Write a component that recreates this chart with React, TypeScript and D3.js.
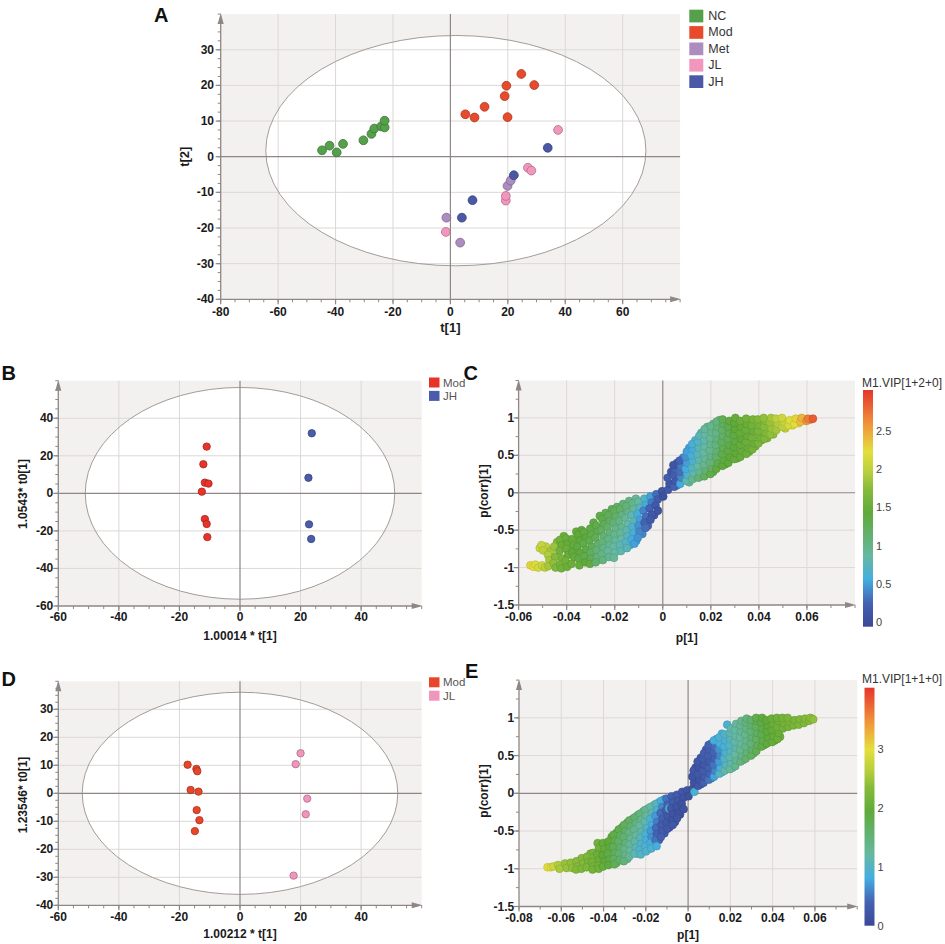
import React from 'react';
import * as d3 from 'd3';

const FONT = '"Liberation Sans", Arial, Helvetica, sans-serif';
const BG = '#f3f1f0';
const GRID = '#dcd8d6';
const AXIS = '#8e8785';
const ELLIPSE = '#a39b98';
const TXT = '#1a1a1a';

// ---------------- Panel A (PCA scores) ----------------
const aGroups = ['NC', 'Mod', 'Met', 'JL', 'JH'];
const aFills = ['#55a04a', '#e84a2c', '#ad8cc0', '#f296bd', '#4a58a5'];
const aNC = [[-44.7, 1.8], [-42.1, 3.1], [-39.6, 1.2], [-37.4, 3.6], [-30.3, 4.6], [-27.5, 6.4], [-26.5, 7.9], [-24.1, 8.5], [-22.9, 8.2], [-22.9, 10.1]];
const aMod = [[5.2, 11.9], [8.4, 11.0], [11.9, 14.0], [18.9, 17.0], [19.5, 19.9], [24.7, 23.2], [29.2, 20.1], [19.9, 11.1]];
const aMet = [[-1.4, -17.1], [3.4, -24.1], [19.9, -8.2], [21.0, -6.7]];
const aJL = [[-1.6, -21.1], [19.3, -12.3], [19.3, -11.0], [27.0, -3.1], [28.2, -3.9], [37.5, 7.5]];
const aJH = [[4.0, -17.1], [7.7, -12.2], [22.1, -5.2], [33.9, 2.5]];
const aXTicks = [-80, -60, -40, -20, 0, 20, 40, 60];
const aYTicks = [-40, -30, -20, -10, 0, 10, 20, 30];
const aEllipse = { cx: 1.9, cy: 1.7, rx: 66.2, ry: 32.3 };

// ---------------- Panel B (OPLS-DA Mod vs JH) ----------------
const bMod = [[-11.0, 24.9], [-12.1, 15.5], [-11.6, 5.7], [-10.4, 5.2], [-12.6, 0.9], [-11.6, -13.7], [-11.0, -16.3], [-10.8, -23.3]];
const bJH = [[23.7, 32.0], [22.6, 8.3], [22.8, -16.5], [23.5, -24.3]];
const bXTicks = [-60, -40, -20, 0, 20, 40];
const bYTicks = [-60, -40, -20, 0, 20, 40];
const bEllipse = { cx: 0, cy: 0, rx: 51.1, ry: 56.4 };

// ---------------- Panel D (OPLS-DA Mod vs JL) ----------------
const dMod = [[-17.3, 10.2], [-14.4, 8.7], [-14.1, 7.9], [-16.3, 1.2], [-13.7, 0.6], [-14.3, -6.0], [-13.4, -9.6], [-14.9, -13.5]];
const dJL = [[20.0, 14.3], [18.4, 10.4], [22.2, -1.9], [21.7, -7.5], [17.7, -29.4]];
const dXTicks = [-60, -40, -20, 0, 20, 40];
const dYTicks = [-40, -30, -20, -10, 0, 10, 20, 30];
const dEllipse = { cx: 0, cy: 0, rx: 52.1, ry: 36.1 };

// ---------------- Panel C (S-plot, [p, pcorr, VIP]) ----------------
const cNeg = [
  [-0.0551, -0.97, 2.3], [-0.0538, -0.99, 2.25], [-0.0530, -0.96, 2.2], [-0.0518, -1.0, 2.15],
  [-0.0505, -0.70, 2.05], [-0.0498, -0.77, 2.0], [-0.0502, -0.97, 2.1], [-0.0490, -1.0, 2.0],
  [-0.0478, -0.83, 1.95], [-0.0472, -0.90, 1.9], [-0.0476, -0.98, 1.9],
  [-0.0452, -0.72, 1.85], [-0.0448, -0.86, 1.75], [-0.0455, -0.94, 1.8], [-0.0446, -1.0, 1.7],
  [-0.0428, -0.63, 1.6], [-0.0421, -0.70, 1.55], [-0.0430, -0.78, 1.6], [-0.0419, -0.88, 1.65], [-0.0427, -0.96, 1.65], [-0.0422, -1.01, 1.6],
  [-0.0403, -0.61, 1.55], [-0.0396, -0.68, 1.5], [-0.0401, -0.75, 1.55], [-0.0394, -0.83, 1.5], [-0.0405, -0.91, 1.6], [-0.0398, -0.99, 1.55],
  [-0.0378, -0.62, 1.5], [-0.0371, -0.70, 1.5], [-0.0376, -0.79, 1.45], [-0.0369, -0.86, 1.5], [-0.0380, -0.95, 1.55],
  [-0.0352, -0.56, 1.45], [-0.0346, -0.64, 1.45], [-0.0355, -0.72, 1.4], [-0.0344, -0.80, 1.45], [-0.0350, -0.88, 1.4], [-0.0347, -0.97, 1.5],
  [-0.0327, -0.53, 1.4], [-0.0321, -0.60, 1.45], [-0.0330, -0.68, 1.35], [-0.0319, -0.76, 1.4], [-0.0326, -0.85, 1.35], [-0.0322, -0.93, 1.45],
  [-0.0302, -0.48, 1.4], [-0.0297, -0.56, 1.35], [-0.0305, -0.64, 1.35], [-0.0295, -0.72, 1.3], [-0.0300, -0.80, 1.25], [-0.0298, -0.88, 1.3], [-0.0303, -0.95, 1.4],
  [-0.0277, -0.44, 1.35], [-0.0271, -0.52, 1.35], [-0.0280, -0.60, 1.3], [-0.0270, -0.69, 1.2], [-0.0276, -0.77, 1.15], [-0.0272, -0.86, 1.1], [-0.0279, -0.93, 1.2],
  [-0.0252, -0.35, 1.35], [-0.0246, -0.42, 1.3], [-0.0255, -0.50, 1.25], [-0.0245, -0.58, 1.15], [-0.0251, -0.66, 1.1], [-0.0247, -0.74, 1.05], [-0.0254, -0.82, 1.05], [-0.0249, -0.90, 1.1],
  [-0.0227, -0.30, 1.3], [-0.0221, -0.38, 1.25], [-0.0230, -0.46, 1.2], [-0.0220, -0.54, 1.1], [-0.0226, -0.62, 1.05], [-0.0222, -0.70, 1.0], [-0.0229, -0.78, 0.95], [-0.0224, -0.86, 1.0],
  [-0.0202, -0.24, 1.25], [-0.0196, -0.32, 1.2], [-0.0205, -0.40, 1.15], [-0.0195, -0.48, 1.05], [-0.0201, -0.56, 1.0], [-0.0197, -0.64, 0.95], [-0.0204, -0.72, 0.9], [-0.0199, -0.80, 0.9], [-0.0203, -0.87, 0.95],
  [-0.0177, -0.22, 1.2], [-0.0171, -0.30, 1.1], [-0.0180, -0.38, 1.05], [-0.0170, -0.46, 1.0], [-0.0176, -0.54, 0.95], [-0.0172, -0.62, 0.9], [-0.0179, -0.70, 0.85], [-0.0174, -0.78, 0.85],
  [-0.0152, -0.18, 1.1], [-0.0146, -0.26, 1.05], [-0.0155, -0.34, 0.95], [-0.0145, -0.42, 0.9], [-0.0151, -0.50, 0.85], [-0.0147, -0.58, 0.8], [-0.0154, -0.66, 0.75], [-0.0149, -0.74, 0.8],
  [-0.0127, -0.14, 1.05], [-0.0121, -0.22, 0.95], [-0.0130, -0.30, 0.85], [-0.0120, -0.38, 0.8], [-0.0126, -0.46, 0.7], [-0.0122, -0.54, 0.65], [-0.0129, -0.62, 0.6], [-0.0118, -0.68, 0.55],
  [-0.0102, -0.12, 0.9], [-0.0096, -0.20, 0.8], [-0.0105, -0.28, 0.65], [-0.0095, -0.36, 0.55], [-0.0101, -0.44, 0.5], [-0.0097, -0.52, 0.45], [-0.0104, -0.60, 0.5],
  [-0.0077, -0.08, 0.75], [-0.0071, -0.16, 0.6], [-0.0080, -0.24, 0.45], [-0.0070, -0.32, 0.35], [-0.0076, -0.40, 0.3], [-0.0072, -0.47, 0.35],
  [-0.0052, -0.05, 0.55], [-0.0046, -0.13, 0.4], [-0.0055, -0.21, 0.3], [-0.0045, -0.29, 0.2], [-0.0051, -0.36, 0.2],
  [-0.0027, -0.02, 0.35], [-0.0021, -0.09, 0.25], [-0.0030, -0.17, 0.2], [-0.0020, -0.24, 0.15],
  [-0.0003, 0.02, 0.15], [0.0002, -0.05, 0.1],
];
const cPos = [
  [0.0022, 0.04, 0.2], [0.0028, 0.12, 0.15], [0.0020, 0.20, 0.25],
  [0.0048, 0.08, 0.3], [0.0053, 0.16, 0.2], [0.0046, 0.24, 0.25], [0.0051, 0.32, 0.3], [0.0044, 0.37, 0.15],
  [0.0073, 0.12, 0.6], [0.0078, 0.20, 0.45], [0.0071, 0.28, 0.35], [0.0076, 0.36, 0.4], [0.0070, 0.43, 0.3],
  [0.0098, 0.16, 0.85], [0.0103, 0.24, 0.7], [0.0096, 0.32, 0.6], [0.0101, 0.40, 0.55], [0.0095, 0.48, 0.5], [0.0100, 0.55, 0.55],
  [0.0123, 0.18, 1.0], [0.0128, 0.26, 0.85], [0.0121, 0.34, 0.75], [0.0126, 0.42, 0.7], [0.0120, 0.50, 0.65], [0.0125, 0.58, 0.6], [0.0122, 0.65, 0.65],
  [0.0148, 0.20, 1.15], [0.0153, 0.28, 1.0], [0.0146, 0.36, 0.9], [0.0151, 0.44, 0.85], [0.0145, 0.52, 0.8], [0.0150, 0.60, 0.8], [0.0147, 0.68, 0.75], [0.0152, 0.76, 0.8],
  [0.0173, 0.22, 1.25], [0.0178, 0.30, 1.15], [0.0171, 0.38, 1.0], [0.0176, 0.46, 0.95], [0.0170, 0.54, 0.9], [0.0175, 0.62, 0.9], [0.0172, 0.70, 0.85], [0.0177, 0.78, 0.9], [0.0174, 0.85, 0.95],
  [0.0198, 0.25, 1.35], [0.0203, 0.33, 1.25], [0.0196, 0.41, 1.1], [0.0201, 0.49, 1.05], [0.0195, 0.57, 1.0], [0.0200, 0.65, 1.0], [0.0197, 0.73, 0.95], [0.0202, 0.81, 1.0], [0.0199, 0.89, 1.0],
  [0.0223, 0.32, 1.4], [0.0228, 0.40, 1.35], [0.0221, 0.48, 1.2], [0.0226, 0.56, 1.15], [0.0220, 0.64, 1.1], [0.0225, 0.72, 1.1], [0.0222, 0.80, 1.05], [0.0227, 0.88, 1.1], [0.0224, 0.95, 1.1],
  [0.0248, 0.36, 1.45], [0.0253, 0.44, 1.4], [0.0246, 0.52, 1.35], [0.0251, 0.60, 1.3], [0.0245, 0.68, 1.25], [0.0250, 0.76, 1.2], [0.0247, 0.84, 1.2], [0.0252, 0.92, 1.25], [0.0249, 0.98, 1.3],
  [0.0273, 0.40, 1.45], [0.0278, 0.48, 1.45], [0.0271, 0.56, 1.4], [0.0276, 0.64, 1.35], [0.0270, 0.72, 1.3], [0.0275, 0.80, 1.3], [0.0272, 0.88, 1.35], [0.0277, 0.96, 1.4],
  [0.0298, 0.45, 1.5], [0.0303, 0.53, 1.45], [0.0296, 0.61, 1.45], [0.0301, 0.69, 1.4], [0.0295, 0.77, 1.4], [0.0300, 0.85, 1.45], [0.0297, 0.93, 1.45], [0.0302, 1.0, 1.5],
  [0.0323, 0.48, 1.5], [0.0328, 0.56, 1.5], [0.0321, 0.64, 1.5], [0.0326, 0.72, 1.45], [0.0320, 0.80, 1.5], [0.0325, 0.88, 1.5], [0.0322, 0.96, 1.55],
  [0.0348, 0.52, 1.55], [0.0353, 0.60, 1.5], [0.0346, 0.68, 1.55], [0.0351, 0.76, 1.5], [0.0345, 0.84, 1.55], [0.0350, 0.92, 1.55], [0.0347, 0.99, 1.6],
  [0.0373, 0.58, 1.6], [0.0378, 0.66, 1.55], [0.0371, 0.74, 1.6], [0.0376, 0.82, 1.55], [0.0370, 0.90, 1.6], [0.0375, 0.98, 1.65],
  [0.0398, 0.66, 1.65], [0.0403, 0.74, 1.6], [0.0396, 0.82, 1.65], [0.0401, 0.90, 1.65], [0.0395, 0.98, 1.7],
  [0.0423, 0.72, 1.7], [0.0428, 0.80, 1.7], [0.0421, 0.88, 1.75], [0.0426, 0.96, 1.75], [0.0420, 1.0, 1.8],
  [0.0448, 0.78, 1.8], [0.0453, 0.86, 1.85], [0.0446, 0.94, 1.85], [0.0451, 1.0, 1.9],
  [0.0473, 0.84, 1.9], [0.0478, 0.92, 1.95], [0.0471, 0.99, 2.0],
  [0.0498, 0.88, 2.0], [0.0503, 0.95, 2.05], [0.0496, 1.0, 2.1],
  [0.0523, 0.90, 2.15], [0.0528, 0.97, 2.2],
  [0.0548, 0.92, 2.25], [0.0553, 0.99, 2.3],
  [0.0573, 0.95, 2.4], [0.0578, 1.0, 2.45],
  [0.0598, 0.96, 2.6], [0.0605, 0.99, 2.7],
  [0.0625, 0.99, 2.85],
];
const cExtra = [
  [-0.0512, -0.74, 2.1], [-0.0486, -0.72, 2.0], [-0.0466, -0.78, 1.9], [-0.0440, -0.66, 1.7], [-0.0412, -0.58, 1.55],
  [-0.0360, -0.52, 1.5], [-0.0338, -0.50, 1.45], [-0.0288, -0.40, 1.4], [-0.0262, -0.31, 1.35], [-0.0238, -0.27, 1.3],
  [-0.0212, -0.22, 1.3], [-0.0190, -0.19, 1.25], [-0.0165, -0.15, 1.15], [-0.0140, -0.11, 1.05], [-0.0112, -0.08, 0.95],
  [-0.0262, -0.89, 1.15], [-0.0236, -0.84, 1.0], [-0.0212, -0.83, 0.9], [-0.0162, -0.72, 0.8], [-0.0137, -0.70, 0.65],
  [-0.0110, -0.64, 0.55], [-0.0085, -0.55, 0.45], [-0.0062, -0.44, 0.3], [-0.0036, -0.30, 0.2],
  [0.0035, 0.28, 0.15], [0.0060, 0.40, 0.25], [0.0085, 0.47, 0.45], [0.0110, 0.60, 0.55], [0.0135, 0.70, 0.7],
  [0.0160, 0.80, 0.8], [0.0185, 0.88, 0.95], [0.0210, 0.92, 1.0], [0.0235, 0.97, 1.1], [0.0060, 0.10, 0.5],
  [0.0110, 0.14, 0.95], [0.0160, 0.22, 1.2], [0.0210, 0.28, 1.35], [0.0260, 0.38, 1.45], [0.0310, 0.46, 1.5],
  [0.0360, 0.55, 1.55], [0.0410, 0.70, 1.65], [0.0435, 0.73, 1.7], [0.0460, 0.78, 1.8], [0.0510, 0.86, 2.0],
  [0.0540, 0.90, 2.2], [0.0565, 0.93, 2.35], [0.0590, 0.98, 2.55], [0.0615, 0.98, 2.8], [0.0385, 0.62, 1.6],
];
const cXTicks = [-0.06, -0.04, -0.02, 0, 0.02, 0.04, 0.06];
const cYTicks = [-1.5, -1, -0.5, 0, 0.5, 1];
const cBarTicks = [0, 0.5, 1, 1.5, 2, 2.5];
const cVipMax = 3.03;

// ---------------- Panel E (S-plot, [p, pcorr, VIP]) ----------------
const eNeg = [
  [-0.0665, -0.98, 3.0], [-0.0650, -0.98, 2.95], [-0.0638, -0.97, 2.8],
  [-0.0615, -0.95, 2.6], [-0.0608, -1.0, 2.55],
  [-0.0582, -0.93, 2.45], [-0.0575, -0.99, 2.45],
  [-0.0555, -0.92, 2.4], [-0.0548, -0.99, 2.4],
  [-0.0528, -0.90, 2.35], [-0.0522, -0.97, 2.35], [-0.0530, -1.01, 2.3],
  [-0.0503, -0.86, 2.3], [-0.0497, -0.93, 2.3], [-0.0505, -1.0, 2.25],
  [-0.0478, -0.84, 2.25], [-0.0472, -0.91, 2.2], [-0.0480, -0.98, 2.25],
  [-0.0450, -0.79, 2.2], [-0.0447, -0.85, 2.2], [-0.0455, -0.91, 2.15], [-0.0448, -0.97, 2.2], [-0.0452, -1.01, 2.15],
  [-0.0428, -0.66, 2.1], [-0.0422, -0.73, 2.1], [-0.0430, -0.81, 2.05], [-0.0421, -0.89, 2.05], [-0.0427, -0.96, 2.1], [-0.0423, -1.0, 2.1],
  [-0.0403, -0.66, 2.0], [-0.0397, -0.74, 2.0], [-0.0405, -0.82, 1.95], [-0.0396, -0.90, 1.95], [-0.0402, -0.97, 2.0],
  [-0.0378, -0.64, 1.95], [-0.0372, -0.72, 1.9], [-0.0380, -0.80, 1.85], [-0.0371, -0.88, 1.85], [-0.0377, -0.95, 1.9],
  [-0.0353, -0.55, 1.85], [-0.0347, -0.63, 1.8], [-0.0355, -0.71, 1.75], [-0.0346, -0.79, 1.7], [-0.0352, -0.87, 1.7], [-0.0348, -0.94, 1.75],
  [-0.0328, -0.48, 1.8], [-0.0322, -0.56, 1.7], [-0.0330, -0.64, 1.65], [-0.0321, -0.72, 1.6], [-0.0327, -0.80, 1.55], [-0.0323, -0.88, 1.6],
  [-0.0303, -0.42, 1.7], [-0.0297, -0.50, 1.65], [-0.0305, -0.58, 1.55], [-0.0296, -0.66, 1.5], [-0.0302, -0.74, 1.4], [-0.0298, -0.82, 1.4], [-0.0304, -0.90, 1.5],
  [-0.0278, -0.36, 1.65], [-0.0272, -0.44, 1.55], [-0.0280, -0.52, 1.45], [-0.0271, -0.60, 1.35], [-0.0277, -0.68, 1.3], [-0.0273, -0.76, 1.25], [-0.0279, -0.84, 1.3],
  [-0.0253, -0.32, 1.55], [-0.0247, -0.40, 1.45], [-0.0255, -0.48, 1.35], [-0.0246, -0.56, 1.25], [-0.0252, -0.64, 1.15], [-0.0248, -0.72, 1.1], [-0.0254, -0.80, 1.1],
  [-0.0228, -0.27, 1.45], [-0.0222, -0.35, 1.35], [-0.0230, -0.43, 1.25], [-0.0221, -0.51, 1.15], [-0.0227, -0.59, 1.05], [-0.0223, -0.67, 1.0], [-0.0229, -0.75, 0.95], [-0.0224, -0.81, 1.0],
  [-0.0203, -0.22, 1.35], [-0.0197, -0.30, 1.25], [-0.0205, -0.38, 1.15], [-0.0196, -0.46, 1.0], [-0.0202, -0.54, 0.9], [-0.0198, -0.62, 0.85], [-0.0204, -0.70, 0.9], [-0.0199, -0.77, 0.95],
  [-0.0178, -0.18, 1.2], [-0.0172, -0.26, 1.1], [-0.0180, -0.34, 0.95], [-0.0171, -0.42, 0.8], [-0.0177, -0.50, 0.7], [-0.0173, -0.58, 0.65], [-0.0179, -0.66, 0.8], [-0.0174, -0.73, 0.9],
  [-0.0153, -0.14, 1.05], [-0.0147, -0.22, 0.9], [-0.0155, -0.30, 0.7], [-0.0146, -0.38, 0.55], [-0.0152, -0.46, 0.45], [-0.0148, -0.54, 0.4], [-0.0154, -0.62, 0.5], [-0.0149, -0.70, 0.85],
  [-0.0128, -0.10, 0.8], [-0.0122, -0.18, 0.6], [-0.0130, -0.26, 0.45], [-0.0121, -0.34, 0.35], [-0.0127, -0.42, 0.3], [-0.0123, -0.50, 0.3], [-0.0129, -0.58, 0.35],
  [-0.0103, -0.07, 0.5], [-0.0097, -0.15, 0.4], [-0.0105, -0.23, 0.3], [-0.0096, -0.31, 0.25], [-0.0102, -0.39, 0.25], [-0.0098, -0.47, 0.25], [-0.0090, -0.20, 0.9],
  [-0.0078, -0.04, 0.35], [-0.0072, -0.12, 0.3], [-0.0080, -0.20, 0.25], [-0.0071, -0.28, 0.2], [-0.0077, -0.36, 0.2], [-0.0073, -0.42, 0.25],
  [-0.0053, -0.02, 0.3], [-0.0047, -0.10, 0.25], [-0.0055, -0.18, 0.2], [-0.0046, -0.26, 0.15], [-0.0052, -0.33, 0.2],
  [-0.0028, 0.02, 0.25], [-0.0022, -0.06, 0.2], [-0.0030, -0.14, 0.15], [-0.0021, -0.21, 0.15],
  [-0.0004, 0.04, 0.2], [0.0002, -0.04, 0.15],
];
const ePos = [
  [0.0022, 0.06, 0.2], [0.0028, 0.14, 0.15], [0.0020, 0.22, 0.2], [0.0026, 0.30, 0.25], [0.0030, 0.02, 0.9],
  [0.0048, 0.10, 0.25], [0.0053, 0.18, 0.2], [0.0046, 0.26, 0.25], [0.0051, 0.34, 0.2], [0.0045, 0.42, 0.25],
  [0.0073, 0.14, 0.35], [0.0078, 0.22, 0.3], [0.0071, 0.30, 0.3], [0.0076, 0.38, 0.25], [0.0070, 0.46, 0.3], [0.0075, 0.53, 0.35],
  [0.0098, 0.18, 0.5], [0.0103, 0.26, 0.4], [0.0096, 0.34, 0.35], [0.0101, 0.42, 0.3], [0.0095, 0.50, 0.35], [0.0100, 0.58, 0.35], [0.0097, 0.64, 0.4],
  [0.0123, 0.22, 0.75], [0.0128, 0.30, 0.6], [0.0121, 0.38, 0.5], [0.0126, 0.46, 0.4], [0.0120, 0.54, 0.4], [0.0125, 0.62, 0.45], [0.0122, 0.70, 0.8],
  [0.0148, 0.26, 1.0], [0.0153, 0.34, 0.85], [0.0146, 0.42, 0.7], [0.0151, 0.50, 0.6], [0.0145, 0.58, 0.65], [0.0150, 0.66, 0.85], [0.0147, 0.74, 0.9],
  [0.0173, 0.30, 1.15], [0.0178, 0.38, 1.05], [0.0171, 0.46, 0.95], [0.0176, 0.54, 0.9], [0.0170, 0.62, 0.85], [0.0175, 0.70, 0.9], [0.0172, 0.78, 0.95], [0.0185, 0.91, 0.9],
  [0.0198, 0.32, 1.25], [0.0203, 0.40, 1.15], [0.0196, 0.48, 1.1], [0.0201, 0.56, 1.05], [0.0195, 0.64, 1.0], [0.0200, 0.72, 1.05], [0.0197, 0.80, 1.1], [0.0202, 0.86, 1.15],
  [0.0223, 0.36, 1.35], [0.0228, 0.44, 1.3], [0.0221, 0.52, 1.2], [0.0226, 0.60, 1.15], [0.0220, 0.68, 1.15], [0.0225, 0.76, 1.2], [0.0222, 0.84, 1.2], [0.0227, 0.92, 1.25],
  [0.0248, 0.42, 1.45], [0.0253, 0.50, 1.4], [0.0246, 0.58, 1.3], [0.0251, 0.66, 1.25], [0.0245, 0.74, 1.25], [0.0250, 0.82, 1.3], [0.0247, 0.90, 1.3], [0.0252, 0.96, 1.35],
  [0.0273, 0.46, 1.55], [0.0278, 0.54, 1.5], [0.0271, 0.62, 1.4], [0.0276, 0.70, 1.35], [0.0270, 0.78, 1.35], [0.0275, 0.86, 1.4], [0.0272, 0.94, 1.45], [0.0277, 0.99, 1.5],
  [0.0298, 0.50, 1.65], [0.0303, 0.58, 1.6], [0.0296, 0.66, 1.5], [0.0301, 0.74, 1.5], [0.0295, 0.82, 1.5], [0.0300, 0.90, 1.55], [0.0297, 0.97, 1.6],
  [0.0323, 0.56, 1.75], [0.0328, 0.64, 1.7], [0.0321, 0.72, 1.65], [0.0326, 0.80, 1.65], [0.0320, 0.88, 1.7], [0.0325, 0.96, 1.75], [0.0322, 1.0, 1.8],
  [0.0348, 0.62, 1.85], [0.0353, 0.70, 1.8], [0.0346, 0.78, 1.8], [0.0351, 0.86, 1.8], [0.0345, 0.94, 1.85], [0.0350, 1.0, 1.9],
  [0.0373, 0.66, 1.9], [0.0378, 0.74, 1.9], [0.0371, 0.82, 1.9], [0.0376, 0.90, 1.95], [0.0370, 0.97, 1.95],
  [0.0398, 0.68, 2.0], [0.0403, 0.76, 2.0], [0.0396, 0.84, 2.0], [0.0401, 0.92, 2.05], [0.0395, 0.99, 2.05],
  [0.0423, 0.72, 2.05], [0.0428, 0.80, 2.05], [0.0421, 0.88, 2.1], [0.0426, 0.96, 2.1], [0.0420, 1.0, 2.1],
  [0.0448, 0.86, 2.1], [0.0453, 0.93, 2.15], [0.0446, 1.0, 2.15],
  [0.0473, 0.88, 2.15], [0.0478, 0.95, 2.2], [0.0471, 1.0, 2.2],
  [0.0498, 0.90, 2.2], [0.0503, 0.97, 2.2],
  [0.0523, 0.91, 2.25], [0.0528, 0.98, 2.25],
  [0.0548, 0.93, 2.25], [0.0553, 0.99, 2.3],
  [0.0573, 0.96, 2.3], [0.0578, 1.0, 2.35],
  [0.0592, 0.98, 2.4],
];
const eExtra = [
  [-0.0560, -0.96, 2.4], [-0.0512, -0.89, 2.3], [-0.0462, -0.80, 2.2], [-0.0412, -0.70, 2.05], [-0.0388, -0.68, 1.95],
  [-0.0362, -0.58, 1.9], [-0.0338, -0.52, 1.8], [-0.0312, -0.45, 1.75], [-0.0288, -0.39, 1.7], [-0.0262, -0.34, 1.6],
  [-0.0238, -0.29, 1.5], [-0.0212, -0.24, 1.4], [-0.0188, -0.20, 1.3], [-0.0162, -0.16, 1.15], [-0.0138, -0.12, 0.95],
  [-0.0112, -0.08, 0.7], [-0.0338, -0.92, 1.6], [-0.0288, -0.87, 1.35], [-0.0238, -0.80, 1.1], [-0.0188, -0.74, 0.85],
  [-0.0162, -0.70, 0.6], [-0.0138, -0.62, 0.4], [-0.0112, -0.53, 0.3], [-0.0088, -0.45, 0.25], [-0.0062, -0.38, 0.2],
  [-0.0038, -0.28, 0.15],
  [0.0035, 0.34, 0.2], [0.0060, 0.47, 0.25], [0.0085, 0.58, 0.3], [0.0110, 0.66, 0.6], [0.0135, 0.72, 0.85],
  [0.0160, 0.79, 0.9], [0.0060, 0.12, 0.3], [0.0110, 0.20, 0.55], [0.0160, 0.28, 1.05], [0.0210, 0.34, 1.25],
  [0.0260, 0.44, 1.45], [0.0310, 0.53, 1.65], [0.0360, 0.64, 1.85], [0.0410, 0.70, 2.0], [0.0435, 0.75, 2.05],
  [0.0460, 0.89, 2.1], [0.0510, 0.94, 2.2], [0.0560, 0.96, 2.25], [0.0585, 0.99, 2.35], [0.0236, 0.88, 1.2], [0.0286, 0.92, 1.45],
];
const eXTicks = [-0.08, -0.06, -0.04, -0.02, 0, 0.02, 0.04, 0.06];
const eYTicks = [-1.5, -1, -0.5, 0, 0.5, 1];
const eBarTicks = [0, 1, 2, 3];
const eVipMax = 4.04;

// colour map (fraction of max VIP -> colour)
const cmapStops = [0, 0.1, 0.2, 0.3, 0.48, 0.58, 0.66, 0.74, 0.85, 1];
const cmapColors = ['#3b4895', '#4462b3', '#44aee0', '#66b8a0', '#5faa3a', '#86bb3a', '#bcd03e', '#e3df3c', '#f0983a', '#e5352b'];
const cmap = d3.scaleLinear<string>().domain(cmapStops).range(cmapColors).interpolate(d3.interpolateRgb).clamp(true);

const fmtNum = (v: number) => (v === 0 ? '0' : String(+v.toFixed(2)));

function Frame(props: any) {
  const { sx, sy, xTicks, yTicks, xMinorStep, yMinorStep, xLabelY, yLabelX, ellipse, children } = props;
  const [xL, xR] = sx.range();
  const [yB, yT] = sy.range();
  const [dx0, dx1] = sx.domain();
  const [dy0, dy1] = sy.domain();
  const x0 = sx(0);
  const y0 = sy(0);
  const xMinor = d3.range(dx0, dx1 + xMinorStep * 0.01, xMinorStep);
  const yMinor = d3.range(dy0, dy1 + yMinorStep * 0.01, yMinorStep);
  const el = ellipse
    ? { cx: sx(ellipse.cx), cy: sy(ellipse.cy), rx: sx(ellipse.rx) - sx(0), ry: sy(0) - sy(ellipse.ry) }
    : null;
  return (
    <g>
      <rect x={xL} y={yT} width={xR - xL} height={yB - yT} fill={BG} />
      {el && <ellipse {...el} fill="#ffffff" />}
      {xTicks.filter((v: number) => Math.abs(v) > 1e-9 && sx(v) > xL + 1).map((v: number) => (
        <line key={'gx' + v} x1={sx(v)} x2={sx(v)} y1={yT} y2={yB} stroke={GRID} strokeWidth={1} />
      ))}
      {yTicks.filter((v: number) => Math.abs(v) > 1e-9 && sy(v) < yB - 1).map((v: number) => (
        <line key={'gy' + v} x1={xL} x2={xR} y1={sy(v)} y2={sy(v)} stroke={GRID} strokeWidth={1} />
      ))}
      {el && <ellipse {...el} fill="none" stroke={ELLIPSE} strokeWidth={1} />}
      <line x1={xL} x2={xR} y1={y0} y2={y0} stroke={AXIS} strokeWidth={1.2} />
      <line x1={x0} x2={x0} y1={yT} y2={yB} stroke={AXIS} strokeWidth={1.2} />
      {children}
      <line x1={xL} x2={xL} y1={yB} y2={yT + 4} stroke={AXIS} strokeWidth={1.3} />
      <path d={`M${xL},${yT - 1} L${xL - 3},${yT + 10} L${xL + 3},${yT + 10} Z`} fill={AXIS} />
      <line x1={xL} x2={xR - 4} y1={yB} y2={yB} stroke={AXIS} strokeWidth={1.3} />
      <path d={`M${xR + 1},${yB} L${xR - 10},${yB - 3} L${xR - 10},${yB + 3} Z`} fill={AXIS} />
      {xMinor.map((v: number) => (
        <line key={'mx' + v} x1={sx(v)} x2={sx(v)} y1={yB} y2={yB + 3} stroke={AXIS} strokeWidth={1} />
      ))}
      {yMinor.map((v: number) => (
        <line key={'my' + v} x1={xL - 3} x2={xL} y1={sy(v)} y2={sy(v)} stroke={AXIS} strokeWidth={1} />
      ))}
      {xTicks.map((v: number) => (
        <line key={'tx' + v} x1={sx(v)} x2={sx(v)} y1={yB} y2={yB + 5} stroke={AXIS} strokeWidth={1.2} />
      ))}
      {yTicks.map((v: number) => (
        <line key={'ty' + v} x1={xL - 5} x2={xL} y1={sy(v)} y2={sy(v)} stroke={AXIS} strokeWidth={1.2} />
      ))}
      {xTicks.map((v: number) => (
        <text key={'lx' + v} x={sx(v)} y={xLabelY} textAnchor="middle" dominantBaseline="central"
          fontFamily={FONT} fontSize={12} fontWeight="bold" fill={TXT}>{fmtNum(v)}</text>
      ))}
      {yTicks.map((v: number) => (
        <text key={'ly' + v} x={yLabelX} y={sy(v)} textAnchor="end" dominantBaseline="central"
          fontFamily={FONT} fontSize={12} fontWeight="bold" fill={TXT}>{fmtNum(v)}</text>
      ))}
    </g>
  );
}

function Dots({ data, sx, sy, r, fill }: any) {
  const stroke = d3.color(fill)!.darker(0.9).formatHex();
  return (
    <g>
      {data.map((d: number[], i: number) => (
        <circle key={i} cx={sx(d[0])} cy={sy(d[1])} r={r} fill={fill} stroke={stroke} strokeWidth={0.8} />
      ))}
    </g>
  );
}

function SDots({ data, sx, sy, vmax }: any) {
  return (
    <g>
      {data.map((d: number[], i: number) => {
        const c = cmap(d[2] / vmax);
        return (
          <circle key={i} cx={sx(d[0])} cy={sy(d[1])} r={3.9} fill={c}
            stroke={d3.color(c)!.darker(0.45).formatHex()} strokeWidth={0.6} />
        );
      })}
    </g>
  );
}

function YTitle({ x, y, text, size = 12 }: any) {
  return (
    <text transform={`translate(${x},${y}) rotate(-90)`} textAnchor="middle" dominantBaseline="central"
      fontFamily={FONT} fontSize={size} fontWeight="bold" fill={TXT}>{text}</text>
  );
}

function XTitle({ x, y, text, size = 12 }: any) {
  return (
    <text x={x} y={y} textAnchor="middle" fontFamily={FONT} fontSize={size} fontWeight="bold" fill={TXT}>{text}</text>
  );
}

function Letter({ x, y, text }: any) {
  return <text x={x} y={y} fontFamily={FONT} fontSize={20} fontWeight="bold" fill="#111">{text}</text>;
}

function SmallLegend({ x, y0, names, fills }: any) {
  return (
    <g>
      {names.map((n: string, i: number) => (
        <g key={n}>
          <rect x={x} y={y0 + i * 13.4 - 5} width={10.5} height={10} fill={fills[i]} />
          <text x={x + 14} y={y0 + i * 13.4} dominantBaseline="central" fontFamily={FONT} fontSize={11.5} fill="#555">{n}</text>
        </g>
      ))}
    </g>
  );
}

function ColorBar({ id, x, yTop, yBot, yZero, vmax, ticks, title, titleY }: any) {
  const s = d3.scaleLinear().domain([0, vmax]).range([yZero, yTop]);
  return (
    <g>
      <defs>
        <linearGradient id={id} x1="0" y1="1" x2="0" y2="0">
          {cmapStops.map((o, i) => (
            <stop key={i} offset={o} stopColor={cmapColors[i]} />
          ))}
        </linearGradient>
      </defs>
      <text x={862} y={titleY} fontFamily={FONT} fontSize={12} fill="#333">{title}</text>
      <rect x={x} y={yTop} width={10} height={yBot - yTop} fill={`url(#${id})`} />
      {ticks.map((t: number) => (
        <text key={t} x={x + 13} y={s(t)} dominantBaseline="central" fontFamily={FONT} fontSize={11} fill="#444">{String(t)}</text>
      ))}
    </g>
  );
}

export default function App() {
  const axS = d3.scaleLinear().domain([-80, 80]).range([220.7, 680.1]);
  const ayS = d3.scaleLinear().domain([-40, 40]).range([299.3, 14.1]);
  const bxS = d3.scaleLinear().domain([-60, 60]).range([58.3, 421.7]);
  const byS = d3.scaleLinear().domain([-60, 60]).range([606, 380.7]);
  const cxS = d3.scaleLinear().domain([-0.06, 0.08]).range([518.6, 855]);
  const cyS = d3.scaleLinear().domain([-1.5, 1.5]).range([605, 380.5]);
  const dxS = d3.scaleLinear().domain([-60, 60]).range([58.3, 421.7]);
  const dyS = d3.scaleLinear().domain([-40, 40]).range([905.3, 681.3]);
  const exS = d3.scaleLinear().domain([-0.08, 0.08]).range([519, 857.2]);
  const eyS = d3.scaleLinear().domain([-1.5, 1.5]).range([906.5, 680.1]);

  const aSeries = [aNC, aMod, aMet, aJL, aJH];

  return (
    <svg width={945} height={944} style={{ position: 'absolute', left: 0, top: 0, background: '#fff' }}>
      <rect x={0} y={0} width={945} height={944} fill="#fff" />

      {/* ---- A ---- */}
      <Letter x={154} y={22} text="A" />
      <Frame sx={axS} sy={ayS} xTicks={aXTicks} yTicks={aYTicks} xMinorStep={5} yMinorStep={2.5}
        xLabelY={311.7} yLabelX={214} ellipse={aEllipse}>
        {aSeries.map((s, i) => (
          <Dots key={i} data={s} sx={axS} sy={ayS} r={4.4} fill={aFills[i]} />
        ))}
      </Frame>
      <XTitle x={450.4} y={332} text="t[1]" size={13} />
      <YTitle x={184.6} y={156.7} text="t[2]" size={13} />
      {aGroups.map((g, i) => (
        <g key={g}>
          <rect x={689.3} y={16 + i * 16.4 - 6.3} width={14} height={12.7} fill={aFills[i]} />
          <text x={708.3} y={16 + i * 16.4} dominantBaseline="central" fontFamily={FONT} fontSize={12.5} fill="#333">{g}</text>
        </g>
      ))}

      {/* ---- B ---- */}
      <Letter x={1.5} y={380} text="B" />
      <Frame sx={bxS} sy={byS} xTicks={bXTicks} yTicks={bYTicks} xMinorStep={5} yMinorStep={5}
        xLabelY={617.3} yLabelX={53.3} ellipse={bEllipse}>
        <Dots data={bMod} sx={bxS} sy={byS} r={3.7} fill="#e8332a" />
        <Dots data={bJH} sx={bxS} sy={byS} r={3.7} fill="#4a5cab" />
      </Frame>
      <XTitle x={240} y={640} text="1.00014 * t[1]" />
      <YTitle x={23.3} y={494} text="1.0543* t0[1]" />
      <SmallLegend x={429} y0={382.5} names={['Mod', 'JH']} fills={['#e8332a', '#4a5cab']} />

      {/* ---- C ---- */}
      <Letter x={463.5} y={380} text="C" />
      <Frame sx={cxS} sy={cyS} xTicks={cXTicks} yTicks={cYTicks} xMinorStep={0.01} yMinorStep={0.25}
        xLabelY={617.3} yLabelX={514.3}>
        <SDots data={cExtra} sx={cxS} sy={cyS} vmax={cVipMax} />
        <SDots data={cNeg} sx={cxS} sy={cyS} vmax={cVipMax} />
        <SDots data={cPos} sx={cxS} sy={cyS} vmax={cVipMax} />
      </Frame>
      <XTitle x={686.8} y={642} text="p[1]" />
      <YTitle x={484} y={491} text="p(corr)[1]" />
      <ColorBar id="cbC" x={863} yTop={390} yBot={626.7} yZero={622.3} vmax={cVipMax} ticks={cBarTicks}
        title="M1.VIP[1+2+0]" titleY={387} />

      {/* ---- D ---- */}
      <Letter x={1.5} y={686} text="D" />
      <Frame sx={dxS} sy={dyS} xTicks={dXTicks} yTicks={dYTicks} xMinorStep={5} yMinorStep={2.5}
        xLabelY={916.7} yLabelX={53.3} ellipse={dEllipse}>
        <Dots data={dMod} sx={dxS} sy={dyS} r={3.7} fill="#e8452a" />
        <Dots data={dJL} sx={dxS} sy={dyS} r={3.7} fill="#f095bb" />
      </Frame>
      <XTitle x={240} y={938} text="1.00212 * t[1]" />
      <YTitle x={23.3} y={795} text="1.23546* t0[1]" />
      <SmallLegend x={429} y0={682.3} names={['Mod', 'JL']} fills={['#e8452a', '#f095bb']} />

      {/* ---- E ---- */}
      <Letter x={465} y={678} text="E" />
      <Frame sx={exS} sy={eyS} xTicks={eXTicks} yTicks={eYTicks} xMinorStep={0.01} yMinorStep={0.25}
        xLabelY={917.5} yLabelX={514.3}>
        <SDots data={eExtra} sx={exS} sy={eyS} vmax={eVipMax} />
        <SDots data={eNeg} sx={exS} sy={eyS} vmax={eVipMax} />
        <SDots data={ePos} sx={exS} sy={eyS} vmax={eVipMax} />
      </Frame>
      <XTitle x={688.1} y={939} text="p[1]" />
      <YTitle x={484} y={791} text="p(corr)[1]" />
      <ColorBar id="cbE" x={864.5} yTop={687.7} yBot={925.7} yZero={925.7} vmax={eVipMax} ticks={eBarTicks}
        title="M1.VIP[1+1+0]" titleY={683} />
    </svg>
  );
}
